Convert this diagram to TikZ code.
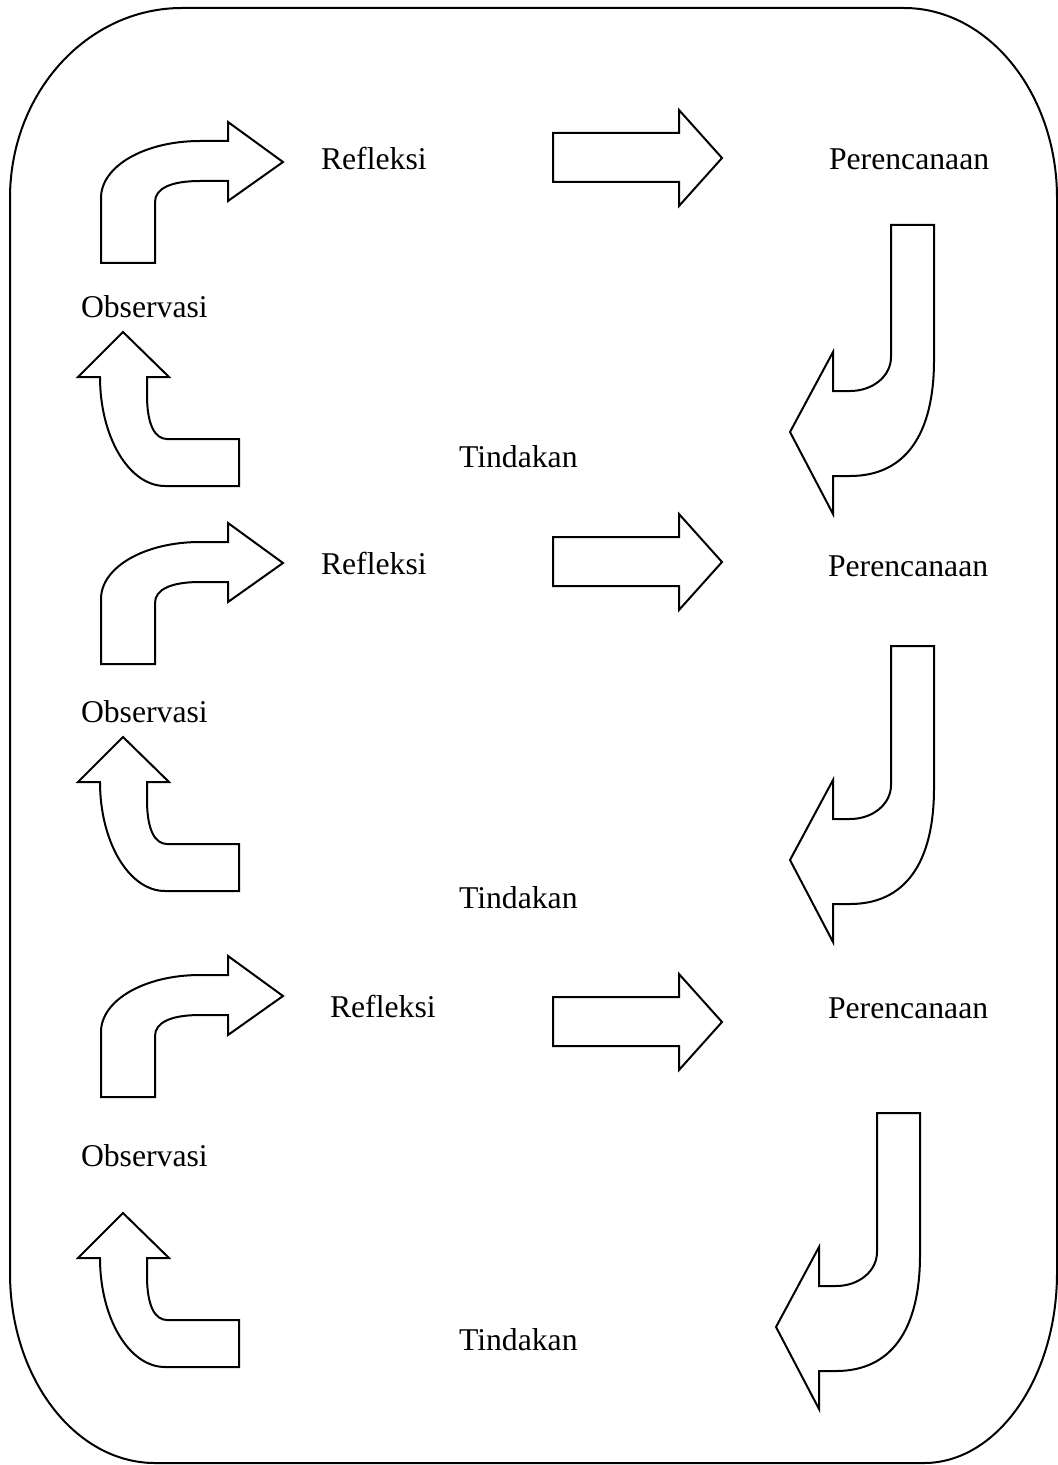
\documentclass[tikz,border=0pt]{standalone}
\usepackage{fontspec}
\setmainfont{Liberation Serif}

\begin{document}
\begin{tikzpicture}[x=0.5pt,y=-0.5pt,line width=1pt,
    blok/.style={draw,line join=miter},
    teks/.style={inner sep=0pt,anchor=base west,font=\fontsize{15.85}{19}\selectfont}]
    \useasboundingbox (0,0) rectangle (1058,1465);
    % outer frame
    \draw (182,8) -- (904,8) .. controls (988,8) and (1057,93) .. (1057,198)
        -- (1057,1273) .. controls (1057,1378) and (997,1463) .. (924,1463)
        -- (155,1463) .. controls (75,1463) and (10,1378) .. (10,1273)
        -- (10,198) .. controls (10,93) and (87,8) .. (182,8) -- cycle;
    % bent arrows to the right
    \foreach \dy in {0,401,834}
        \draw[blok,shift={(0,\dy)}] (101,263) -- (101,198) .. controls (101,166) and (145,141) .. (200,141)
            -- (228,141) -- (228,122) -- (283,162) -- (228,201) -- (228,181) -- (200,181)
            .. controls (172,181) and (155,188) .. (155,202) -- (155,263) -- cycle;
    % bent arrows upward
    \foreach \dy in {0,405,881}
        \draw[blok,shift={(0,\dy)}] (239,486) -- (165,486) .. controls (129,486) and (100,437) .. (100,377)
            -- (78,377) -- (123,332) -- (169,377) -- (147,377) -- (147,395)
            .. controls (147,425) and (155,439) .. (167,439) -- (239,439) -- cycle;
    % straight arrows
    \foreach \dy in {0,404,864}
        \draw[blok,shift={(0,\dy)}] (553,133) -- (679,133) -- (679,110) -- (722,158)
            -- (679,206) -- (679,182) -- (553,182) -- cycle;
    % hook arrows down and left
    \foreach \dx/\dy/\top in {0/0/225,0/428/218,-14/895/218}
        \draw[blok,shift={(\dx,\dy)}] (891,\top) -- (934,\top) -- (934,360)
            .. controls (934,435) and (905,476) .. (850,476) -- (833,476) -- (833,514)
            -- (790,432) -- (833,352) -- (833,391) -- (850,391)
            .. controls (873,391) and (891,376) .. (891,357) -- cycle;
    % labels
    \foreach \i/\x/\y in {1/320/170,2/320/574,3/329/1017}
        \node[teks] (refleksi\i) at (\x,\y) {Refleksi};
    \foreach \i/\x/\y in {1/828/170,2/827/576,3/827/1018}
        \node[teks] (perencanaan\i) at (\x,\y) {Perencanaan};
    \foreach \i/\y in {1/318,2/722,3/1166}
        \node[teks] (observasi\i) at (80,\y) {Observasi};
    \foreach \i/\y in {1/467,2/908,3/1350}
        \node[teks] (tindakan\i) at (458,\y) {Tindakan};
\end{tikzpicture}
\end{document}
